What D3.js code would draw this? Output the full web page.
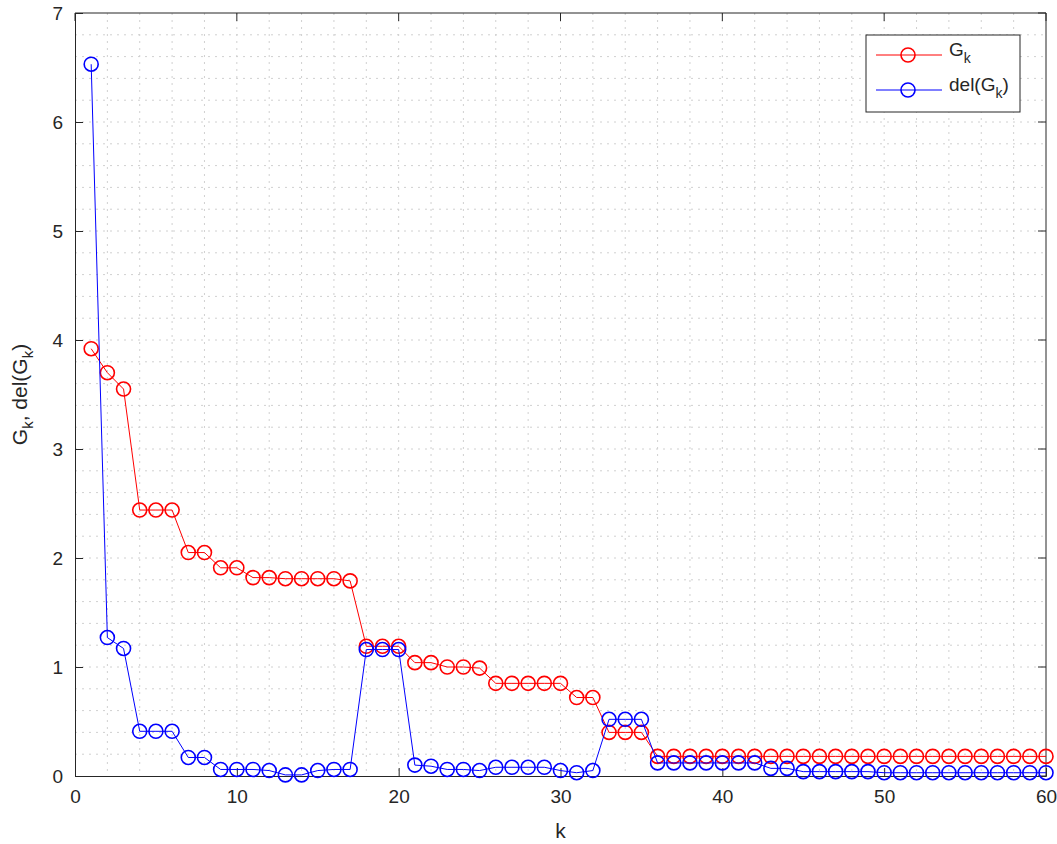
<!DOCTYPE html>
<html>
<head>
<meta charset="utf-8">
<script src="https://cdn.jsdelivr.net/npm/d3@7"></script>
<style>
  body { margin: 0; background: #fff; }
  text { font-family: "Liberation Sans", Arial, sans-serif; fill: #262626; }
  .tick-label { font-size: 19px; }
  .axis-label { font-size: 21px; }
  .legend-text { font-size: 19px; }
</style>
</head>
<body>
<div id="chart"></div>
<script>
// values, k = 1..60
const kValues = d3.range(1, 61);
const gValues = [
  3.92, 3.70, 3.55, 2.44, 2.44, 2.44, 2.05, 2.05, 1.91, 1.91,
  1.82, 1.82, 1.81, 1.81, 1.81, 1.81, 1.79, 1.19, 1.19, 1.19,
  1.04, 1.04, 1.00, 1.00, 0.99, 0.85, 0.85, 0.85, 0.85, 0.85,
  0.72, 0.72, 0.40, 0.40, 0.40, 0.18, 0.18, 0.18, 0.18, 0.18,
  0.18, 0.18, 0.18, 0.18, 0.18, 0.18, 0.18, 0.18, 0.18, 0.18,
  0.18, 0.18, 0.18, 0.18, 0.18, 0.18, 0.18, 0.18, 0.18, 0.18
];
const delValues = [
  6.53, 1.27, 1.17, 0.41, 0.41, 0.41, 0.17, 0.17, 0.06, 0.06,
  0.06, 0.05, 0.01, 0.01, 0.05, 0.06, 0.06, 1.16, 1.16, 1.16,
  0.10, 0.09, 0.06, 0.06, 0.05, 0.08, 0.08, 0.08, 0.08, 0.05,
  0.03, 0.05, 0.52, 0.52, 0.52, 0.12, 0.12, 0.12, 0.12, 0.12,
  0.12, 0.12, 0.07, 0.07, 0.04, 0.04, 0.04, 0.04, 0.04, 0.03,
  0.03, 0.03, 0.03, 0.03, 0.03, 0.03, 0.03, 0.03, 0.03, 0.03
];
const xTicks = [0, 10, 20, 30, 40, 50, 60];
const yTicks = [0, 1, 2, 3, 4, 5, 6, 7];

const width = 1057, height = 844;
const margin = {top: 13, right: 11, bottom: 68, left: 75};
const w = width - margin.left - margin.right;
const h = height - margin.top - margin.bottom;

const svg = d3.select("#chart").append("svg")
    .attr("width", width)
    .attr("height", height);
const g = svg.append("g")
    .attr("transform", "translate(" + margin.left + "," + margin.top + ")");

const xScale = d3.scaleLinear().domain([0, 60]).range([0, w]);
const yScale = d3.scaleLinear().domain([0, 7]).range([h, 0]);

// grid (major + minor), all dotted like the reference
const gridColor = "#d0d0d0";
g.append("g").selectAll("line")
  .data(d3.range(0, 60.01, 2).filter(v => v > 0 && v < 60))
  .enter().append("line")
    .attr("x1", d => xScale(d)).attr("x2", d => xScale(d))
    .attr("y1", 0).attr("y2", h)
    .attr("stroke", gridColor).attr("stroke-width", 1)
    .attr("stroke-dasharray", "2,5");
g.append("g").selectAll("line")
  .data(d3.range(1, 35).map(i => i * 0.2))
  .enter().append("line")
    .attr("x1", 0).attr("x2", w)
    .attr("y1", d => yScale(d)).attr("y2", d => yScale(d))
    .attr("stroke", gridColor).attr("stroke-width", 1)
    .attr("stroke-dasharray", "2,5");

// axes
const axisColor = "#262626";
const xAxis = d3.axisBottom(xScale).tickValues(xTicks).tickSize(-8).tickPadding(14)
  .tickFormat(d3.format("d"));
const yAxis = d3.axisLeft(yScale).tickValues(yTicks).tickSize(-8).tickPadding(12)
  .tickFormat(d3.format("d"));

const gx = g.append("g").attr("transform", "translate(0," + h + ")").call(xAxis);
const gy = g.append("g").call(yAxis);
[gx, gy].forEach(a => {
  a.select(".domain").attr("stroke", axisColor);
  a.selectAll(".tick line").attr("stroke", axisColor);
  a.selectAll("text").attr("class", "tick-label").attr("fill", axisColor);
});
// box: top and right edges
g.append("line").attr("x1", 0).attr("x2", w).attr("y1", 0).attr("y2", 0).attr("stroke", axisColor);
g.append("line").attr("x1", w).attr("x2", w).attr("y1", 0).attr("y2", h).attr("stroke", axisColor);
// ticks on the top and right edges
g.append("g").selectAll("line").data(xTicks).enter().append("line")
  .attr("x1", d => xScale(d)).attr("x2", d => xScale(d)).attr("y1", 0).attr("y2", 8)
  .attr("stroke", axisColor);
g.append("g").selectAll("line").data(yTicks).enter().append("line")
  .attr("x1", w - 8).attr("x2", w).attr("y1", d => yScale(d)).attr("y2", d => yScale(d))
  .attr("stroke", axisColor);

// axis labels
svg.append("text")
  .attr("class", "axis-label")
  .attr("text-anchor", "middle")
  .attr("x", margin.left + w / 2)
  .attr("y", 838)
  .text("k");

const yl = svg.append("text")
  .attr("class", "axis-label")
  .attr("text-anchor", "middle")
  .attr("transform", "translate(27," + (margin.top + h / 2) + ") rotate(-90)");
yl.append("tspan").text("G");
yl.append("tspan").attr("dy", 6).attr("font-size", 15).text("k");
yl.append("tspan").attr("dy", -6).text(", del(G");
yl.append("tspan").attr("dy", 6).attr("font-size", 15).text("k");
yl.append("tspan").attr("dy", -6).text(")");

// series
const series = [
  {name: "G", values: gValues, color: "#ff0000"},
  {name: "del", values: delValues, color: "#0000ff"}
];
const line = d3.line()
  .x((d, i) => xScale(kValues[i]))
  .y(d => yScale(d));

series.forEach(s => {
  g.append("path")
    .datum(s.values)
    .attr("d", line)
    .attr("fill", "none")
    .attr("stroke", s.color)
    .attr("stroke-width", 1);
  g.append("g").selectAll("circle")
    .data(s.values)
    .enter().append("circle")
      .attr("cx", (d, i) => xScale(kValues[i]))
      .attr("cy", d => yScale(d))
      .attr("r", 7)
      .attr("fill", "none")
      .attr("stroke", s.color)
      .attr("stroke-width", 1.6);
});

// legend
const legend = svg.append("g").attr("transform", "translate(866,35)");
legend.append("rect")
  .attr("width", 154).attr("height", 77)
  .attr("fill", "#fff").attr("stroke", axisColor).attr("stroke-width", 1);
series.forEach((s, i) => {
  const ly = 20 + i * 35;
  legend.append("line").attr("x1", 10).attr("x2", 76).attr("y1", ly).attr("y2", ly)
    .attr("stroke", s.color).attr("stroke-width", 1);
  legend.append("circle").attr("cx", 42).attr("cy", ly).attr("r", 7)
    .attr("fill", "none").attr("stroke", s.color).attr("stroke-width", 1.6);
  const t = legend.append("text").attr("class", "legend-text").attr("x", 83).attr("y", ly + 1);
  if (s.name === "G") {
    t.append("tspan").text("G");
    t.append("tspan").attr("dy", 7).attr("font-size", 14).text("k");
  } else {
    t.append("tspan").text("del(G");
    t.append("tspan").attr("dy", 7).attr("font-size", 14).text("k");
    t.append("tspan").attr("dy", -7).text(")");
  }
});
</script>
</body>
</html>
